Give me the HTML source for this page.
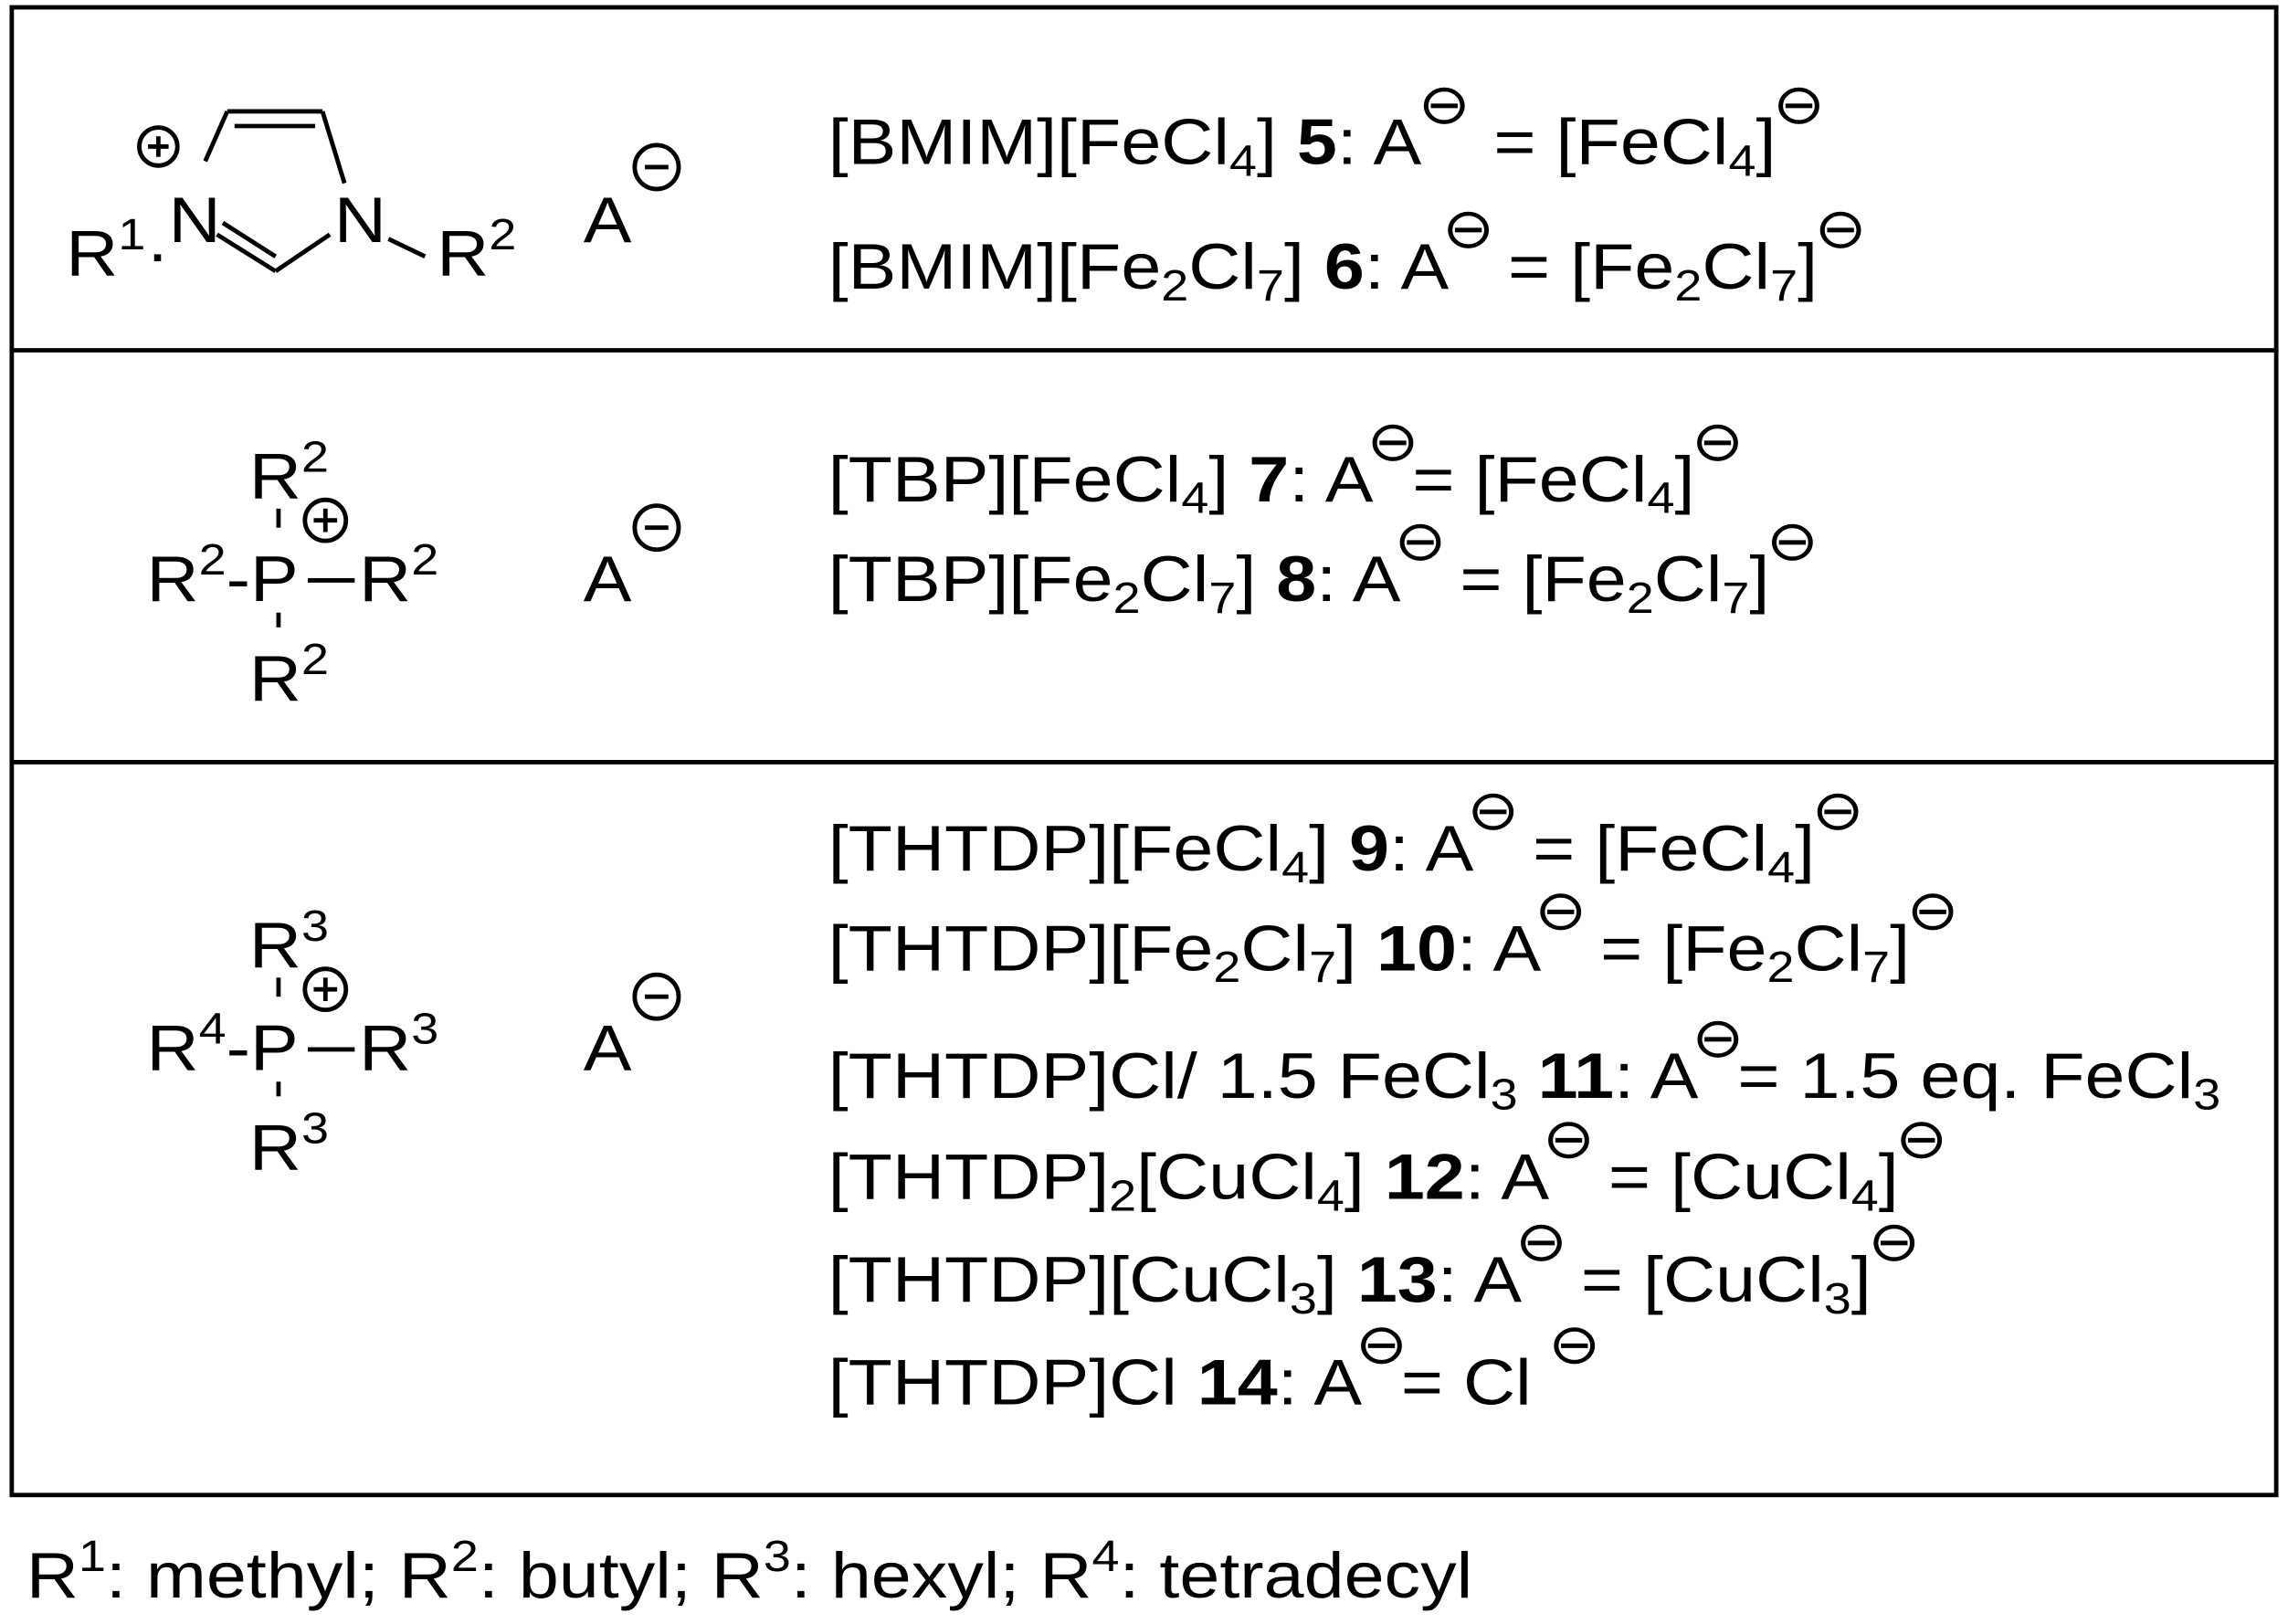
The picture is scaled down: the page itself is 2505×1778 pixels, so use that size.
<!DOCTYPE html>
<html><head><meta charset="utf-8"><style>
html,body{margin:0;padding:0;background:#fff}
svg{display:block}
text{font-family:"Liberation Sans",Arial,sans-serif;font-size:44px;fill:#000}
.b{font-weight:bold}
.s{font-size:30px}
.o{font-size:38px}
</style></head><body>
<svg width="2505" height="1778" viewBox="0 0 1561 1108" xmlns="http://www.w3.org/2000/svg">
<rect x="8" y="5" width="1545" height="1015" fill="none" stroke="#000" stroke-width="3"/>
<line x1="8" y1="239" x2="1553" y2="239" stroke="#000" stroke-width="3"/>
<line x1="8" y1="520" x2="1553" y2="520" stroke="#000" stroke-width="3"/>

<!-- imidazolium -->
<g stroke="#000" stroke-width="3" fill="none">
<circle cx="108" cy="100" r="13"/><line x1="101" y1="100" x2="115" y2="100"/><line x1="108" y1="93" x2="108" y2="107"/>
<line x1="140" y1="110" x2="155" y2="76"/>
<line x1="155" y1="76" x2="220" y2="76"/>
<line x1="160" y1="86" x2="215" y2="86"/>
<line x1="220" y1="76" x2="235" y2="125"/>
<line x1="148" y1="160" x2="188" y2="185"/>
<line x1="152" y1="152" x2="188" y2="175"/>
<line x1="188" y1="185" x2="225" y2="160"/>
<line x1="265" y1="163" x2="290" y2="175"/>
</g>
<g transform="translate(45,0) scale(1.12,1)"><text x="0" y="188">R<tspan class="s" dy="-18">1</tspan><tspan dy="18">·</tspan></text></g>
<g transform="translate(115,0) scale(1.12,1)"><text x="0" y="165">N</text></g>
<g transform="translate(228,0) scale(1.12,1)"><text x="0" y="165">N</text></g>
<g transform="translate(298,0) scale(1.12,1)"><text x="0" y="188">R<tspan class="s" dy="-18">2</tspan></text></g>
<g transform="translate(398,0) scale(1.12,1)"><text x="0" y="165">A</text></g>
<g stroke="#000" stroke-width="3" fill="none"><circle cx="448" cy="114" r="15"/><line x1="440" y1="114" x2="456" y2="114"/></g>

<!-- phosphonium 1 -->
<g transform="translate(170,0) scale(1.12,1)"><text x="0" y="340">R<tspan class="s" dy="-18">2</tspan></text></g>
<g transform="translate(100,0) scale(1.12,1)"><text x="0" y="410">R<tspan class="s" dy="-18">2</tspan><tspan dy="18">-P</tspan></text></g>
<g transform="translate(245,0) scale(1.12,1)"><text x="0" y="410">R<tspan class="s" dy="-18">2</tspan></text></g>
<g transform="translate(170,0) scale(1.12,1)"><text x="0" y="478">R<tspan class="s" dy="-18">2</tspan></text></g>
<g stroke="#000" stroke-width="3" fill="none">
<line x1="190" y1="347" x2="190" y2="360"/>
<line x1="190" y1="418" x2="190" y2="428"/>
<line x1="210" y1="396" x2="242" y2="396"/>
<circle cx="222" cy="355" r="14"/><line x1="214" y1="355" x2="230" y2="355"/><line x1="222" y1="347" x2="222" y2="363"/>
</g>
<g transform="translate(398,0) scale(1.12,1)"><text x="0" y="410">A</text></g>
<g stroke="#000" stroke-width="3" fill="none"><circle cx="448" cy="360" r="15"/><line x1="440" y1="360" x2="456" y2="360"/></g>

<!-- phosphonium 2 -->
<g transform="translate(170,0) scale(1.12,1)"><text x="0" y="660">R<tspan class="s" dy="-18">3</tspan></text></g>
<g transform="translate(100,0) scale(1.12,1)"><text x="0" y="730">R<tspan class="s" dy="-18">4</tspan><tspan dy="18">-P</tspan></text></g>
<g transform="translate(245,0) scale(1.12,1)"><text x="0" y="730">R<tspan class="s" dy="-18">3</tspan></text></g>
<g transform="translate(170,0) scale(1.12,1)"><text x="0" y="798">R<tspan class="s" dy="-18">3</tspan></text></g>
<g stroke="#000" stroke-width="3" fill="none">
<line x1="190" y1="667" x2="190" y2="680"/>
<line x1="190" y1="738" x2="190" y2="748"/>
<line x1="210" y1="716" x2="242" y2="716"/>
<circle cx="222" cy="675" r="14"/><line x1="214" y1="675" x2="230" y2="675"/><line x1="222" y1="667" x2="222" y2="683"/>
</g>
<g transform="translate(398,0) scale(1.12,1)"><text x="0" y="730">A</text></g>
<g stroke="#000" stroke-width="3" fill="none"><circle cx="448" cy="680" r="15"/><line x1="440" y1="680" x2="456" y2="680"/></g>

<!-- right text -->
<g transform="translate(565,0) scale(1.12,1)">
<text x="0" y="112">[BMIM][FeCl<tspan class="s" dy="8">4</tspan><tspan dy="-8">] </tspan><tspan class="b">5</tspan>: A<tspan class="o" dy="-28" dx="-2">⊖</tspan><tspan dy="28" dx="2"> = [FeCl</tspan><tspan class="s" dy="8">4</tspan><tspan dy="-8">]</tspan><tspan class="o" dy="-28" dx="-2">⊖</tspan></text>
<text x="0" y="197">[BMIM][Fe<tspan class="s" dy="8">2</tspan><tspan dy="-8">Cl</tspan><tspan class="s" dy="8">7</tspan><tspan dy="-8">] </tspan><tspan class="b">6</tspan>: A<tspan class="o" dy="-28" dx="-4">⊖</tspan><tspan dy="28" dx="-4"> = [Fe</tspan><tspan class="s" dy="8">2</tspan><tspan dy="-8">Cl</tspan><tspan class="s" dy="8">7</tspan><tspan dy="-8">]</tspan><tspan class="o" dy="-28" dx="-2">⊖</tspan></text>

<text x="0" y="342">[TBP][FeCl<tspan class="s" dy="8">4</tspan><tspan dy="-8">] </tspan><tspan class="b">7</tspan>: A<tspan class="o" dy="-28" dx="-4">⊖</tspan><tspan dy="28" dx="-4">= [FeCl</tspan><tspan class="s" dy="8">4</tspan><tspan dy="-8">]</tspan><tspan class="o" dy="-28" dx="-2">⊖</tspan></text>
<text x="0" y="410">[TBP][Fe<tspan class="s" dy="8">2</tspan><tspan dy="-8">Cl</tspan><tspan class="s" dy="8">7</tspan><tspan dy="-8">] </tspan><tspan class="b">8</tspan>: A<tspan class="o" dy="-28" dx="-4">⊖</tspan><tspan dy="28" dx="-4"> = [Fe</tspan><tspan class="s" dy="8">2</tspan><tspan dy="-8">Cl</tspan><tspan class="s" dy="8">7</tspan><tspan dy="-8">]</tspan><tspan class="o" dy="-28" dx="-2">⊖</tspan></text>

<text x="0" y="594">[THTDP][FeCl<tspan class="s" dy="8">4</tspan><tspan dy="-8">] </tspan><tspan class="b">9</tspan>: A<tspan class="o" dy="-28" dx="-4">⊖</tspan><tspan dy="28" dx="-4"> = [FeCl</tspan><tspan class="s" dy="8">4</tspan><tspan dy="-8">]</tspan><tspan class="o" dy="-28" dx="-2">⊖</tspan></text>
<text x="0" y="662">[THTDP][Fe<tspan class="s" dy="8">2</tspan><tspan dy="-8">Cl</tspan><tspan class="s" dy="8">7</tspan><tspan dy="-8">] </tspan><tspan class="b">10</tspan>: A<tspan class="o" dy="-28" dx="-4">⊖</tspan><tspan dy="28" dx="-4"> = [Fe</tspan><tspan class="s" dy="8">2</tspan><tspan dy="-8">Cl</tspan><tspan class="s" dy="8">7</tspan><tspan dy="-8">]</tspan><tspan class="o" dy="-28" dx="-2">⊖</tspan></text>
<text x="0" y="749">[THTDP]Cl/ 1.5 FeCl<tspan class="s" dy="8">3</tspan><tspan dy="-8"> </tspan><tspan class="b">11</tspan>: A<tspan class="o" dy="-28" dx="-4">⊖</tspan><tspan dy="28" dx="-4">= 1.5 eq. FeCl</tspan><tspan class="s" dy="8">3</tspan></text>
<text x="0" y="818">[THTDP]<tspan class="s" dy="8">2</tspan><tspan dy="-8">[CuCl</tspan><tspan class="s" dy="8">4</tspan><tspan dy="-8">] </tspan><tspan class="b">12</tspan>: A<tspan class="o" dy="-28" dx="-4">⊖</tspan><tspan dy="28" dx="-4"> = [CuCl</tspan><tspan class="s" dy="8">4</tspan><tspan dy="-8">]</tspan><tspan class="o" dy="-28" dx="-2">⊖</tspan></text>
<text x="0" y="888">[THTDP][CuCl<tspan class="s" dy="8">3</tspan><tspan dy="-8">] </tspan><tspan class="b">13</tspan>: A<tspan class="o" dy="-28" dx="-4">⊖</tspan><tspan dy="28" dx="-4"> = [CuCl</tspan><tspan class="s" dy="8">3</tspan><tspan dy="-8">]</tspan><tspan class="o" dy="-28" dx="-2">⊖</tspan></text>
<text x="0" y="958">[THTDP]Cl <tspan class="b">14</tspan>: A<tspan class="o" dy="-28" dx="-4">⊖</tspan><tspan dy="28" dx="-4">= Cl </tspan><tspan class="o" dy="-28" dx="-2">⊖</tspan></text>
</g>

<g transform="translate(18,0) scale(1.12,1)">
<text x="0" y="1090">R<tspan class="s" dy="-18">1</tspan><tspan dy="18">: methyl; R</tspan><tspan class="s" dy="-18">2</tspan><tspan dy="18">: butyl; R</tspan><tspan class="s" dy="-18">3</tspan><tspan dy="18">: hexyl; R</tspan><tspan class="s" dy="-18">4</tspan><tspan dy="18">: tetradecyl</tspan></text>
</g>
</svg>
</body></html>
